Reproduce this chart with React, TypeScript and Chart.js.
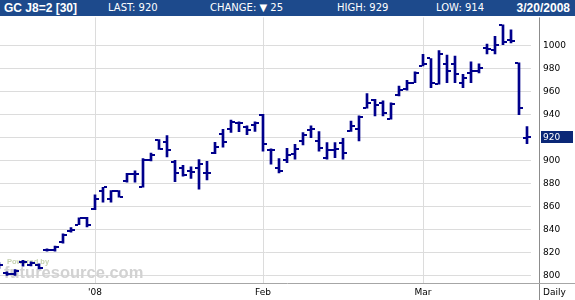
import React, { useEffect, useRef } from "react";
import { Chart, registerables } from "chart.js";

Chart.register(...registerables);

// ---- Data ----
const dates = [
  "2007-12-13", "2007-12-14", "2007-12-17", "2007-12-18", "2007-12-19", "2007-12-20",
  "2007-12-21", "2007-12-24", "2007-12-26", "2007-12-27", "2007-12-28", "2007-12-31",
  "2008-01-02", "2008-01-03", "2008-01-04", "2008-01-07", "2008-01-08", "2008-01-09",
  "2008-01-10", "2008-01-11", "2008-01-14", "2008-01-15", "2008-01-16", "2008-01-17",
  "2008-01-18", "2008-01-22", "2008-01-23", "2008-01-24", "2008-01-25", "2008-01-28",
  "2008-01-29", "2008-01-30", "2008-01-31",
  "2008-02-01", "2008-02-04", "2008-02-05", "2008-02-06", "2008-02-07", "2008-02-08",
  "2008-02-11", "2008-02-12", "2008-02-13", "2008-02-14", "2008-02-15", "2008-02-19",
  "2008-02-20", "2008-02-21", "2008-02-22", "2008-02-25", "2008-02-26", "2008-02-27",
  "2008-02-28", "2008-02-29",
  "2008-03-03", "2008-03-04", "2008-03-05", "2008-03-06", "2008-03-07", "2008-03-10",
  "2008-03-11", "2008-03-12", "2008-03-13", "2008-03-14", "2008-03-17", "2008-03-18",
  "2008-03-19", "2008-03-20",
];

const opens = [
  808, 802, 801, 812, 809.4, 809, 822, 822, 828.6, 838.5, 844, 850,
  858, 872.9, 866, 873, 881.7, 888, 876.6, 900, 917.7, 916, 898.6, 893.4,
  891, 893, 889, 906.6, 922.9, 927, 932, 929, 930.9,
  939.4, 909, 892.9, 900, 905.8, 916.8, 926, 916.8, 902.3, 908.7, 914.8, 925.5,
  927, 945.8, 952.2, 950, 936.2, 956.5, 961.7, 967.5,
  982, 988.5, 966.7, 983.9, 983.9, 967.5, 976, 977.6, 997.7, 996.3, 1017.8, 1004.9,
  984.8, 919.5,
];

const highs = [
  811, 803, 805, 813, 811.7, 810, 823, 825.5, 836, 841.5, 850, 850.5,
  870, 876.6, 873.7, 873.7, 888.6, 890.9, 901.5, 906.3, 918, 921.4, 900, 895.7,
  894.3, 900.6, 899, 915.7, 927, 934.9, 933.4, 930, 933.4,
  940, 910, 901.4, 910.4, 913.9, 924, 929.9, 924.9, 915.4, 915.4, 919, 934,
  938.6, 958, 953, 951.6, 950, 964.6, 969.6, 977,
  992, 988.5, 995.4, 991.4, 990.5, 974.7, 985.6, 983.9, 1001, 1007.8, 1017.8, 1013.5,
  984.8, 929.3,
];

const lows = [
  806, 800, 800, 808, 808.2, 805.5, 821, 821, 828, 837.5, 844, 842,
  857, 863.7, 863.7, 868, 880.9, 880.9, 876.6, 899.4, 909.4, 902.9, 881.4, 886.3,
  884.3, 874.9, 883, 905.7, 911.4, 924.3, 924.9, 922.3, 925,
  908, 896.6, 889, 898, 900.9, 913.3, 919.7, 908, 900.9, 902.3, 900.9, 925,
  916.8, 945.2, 938.6, 938.6, 935.7, 956, 960.9, 967.5,
  982, 963.2, 966.1, 967.5, 967.5, 963.2, 967.5, 976, 992.5, 992.5, 1000.6, 1002,
  939.7, 914.4,
];

const closes = [
  809.4, 801, 804, 812, 811, 806.5, 822, 824.5, 835.5, 839, 849.8, 844,
  866.6, 876.6, 873, 868, 888, 888, 900, 905, 910, 909, 889, 887,
  890, 896.6, 889, 911.4, 915.7, 932.9, 932, 926.3, 932,
  914.3, 909, 890.9, 904.6, 909.6, 921.7, 927, 910.4, 909, 909.6, 906, 929.9,
  937.7, 950.1, 948.1, 940.9, 949.3, 960.9, 967.5, 976.2,
  984, 967.5, 992, 977.6, 975.3, 971.8, 977.6, 980.5, 997.1, 1000, 1002.9, 1004,
  945.4, 920,
];

const yTickValues = [800, 820, 840, 860, 880, 900, 920, 940, 960, 980, 1000];
const monthStartDates = ["2008-01-02", "2008-02-01", "2008-03-03"];
const monthLabels = ["'08", "Feb", "Mar"];

const symbolText = "GC J8=2 [30]";
const periodText = "Daily";

// ---- Styles ----
const BAR_COLOR = "#00008c";
const HEADER_BG = "#1d4a8c";
const PRICE_BG = "#0b2877";
const GRID_COLOR = "#dcdcdc";
const AXIS_FONT = '"DejaVu Sans", Verdana, sans-serif';

const monthIdx = monthStartDates.map((d) => dates.indexOf(d));
const last = closes.length - 1;
const lastClose = closes[last];
const change = closes[last] - closes[last - 1];

function fmtDate(d: string) {
  const [y, m, day] = d.split("-");
  return `${parseInt(m, 10)}/${parseInt(day, 10)}/${y}`;
}

const ohlcPlugin = {
  id: "ohlcTicks",
  afterDatasetsDraw(chart: any) {
    const { ctx, chartArea, scales } = chart;
    const x = scales.x;
    const y = scales.y;
    ctx.save();
    ctx.beginPath();
    ctx.rect(chartArea.left, chartArea.top, chartArea.right - chartArea.left, chartArea.bottom - chartArea.top);
    ctx.clip();
    ctx.fillStyle = BAR_COLOR;
    for (let i = 0; i < opens.length; i++) {
      const px = Math.round(x.getPixelForValue(i));
      const po = Math.round(y.getPixelForValue(opens[i]));
      const pc = Math.round(y.getPixelForValue(closes[i]));
      ctx.fillRect(px - 4, po - 1, 3, 2);
      ctx.fillRect(px + 1, pc - 1, 3, 2);
    }
    ctx.restore();
  },
};

const decorPlugin = {
  id: "decor",
  beforeDatasetsDraw(chart: any) {
    const { ctx, chartArea } = chart;
    ctx.save();
    ctx.textBaseline = "alphabetic";
    ctx.textAlign = "left";
    ctx.fillStyle = "#c6d2b0";
    ctx.font = 'bold 7.5px "Liberation Sans", Arial, sans-serif';
    ctx.fillText("Powered by", chartArea.left + 7, chartArea.bottom - 19);
    ctx.fillStyle = "#d2d2d2";
    ctx.font = 'bold 16.5px "Liberation Sans", Arial, sans-serif';
    ctx.fillText("futuresource.com", chartArea.left + 4, chartArea.bottom - 5);
    ctx.restore();
  },
  afterDraw(chart: any) {
    const { ctx, chartArea, width, height, scales } = chart;
    const y = scales.y;
    ctx.save();
    // right axis line
    ctx.strokeStyle = "#8c8c8c";
    ctx.lineWidth = 1;
    ctx.beginPath();
    const ax = Math.round(chartArea.right + 8) + 0.5;
    ctx.moveTo(ax, chartArea.top);
    ctx.lineTo(ax, height);
    ctx.stroke();
    // bottom axis line
    ctx.strokeStyle = "#a6a6a6";
    ctx.beginPath();
    const by = Math.round(chartArea.bottom) + 0.5;
    ctx.moveTo(0, by);
    ctx.lineTo(width, by);
    ctx.stroke();
    // current price label
    const py = y.getPixelForValue(lastClose);
    ctx.fillStyle = PRICE_BG;
    ctx.fillRect(Math.round(chartArea.right + 10), Math.round(py - 6), 32, 12);
    ctx.fillStyle = "#ffffff";
    ctx.font = `9px ${AXIS_FONT}`;
    ctx.textBaseline = "middle";
    ctx.textAlign = "left";
    ctx.fillText(String(Math.round(lastClose)), chartArea.right + 12, py);
    // period label
    ctx.fillStyle = "#000000";
    ctx.fillText(periodText, chartArea.right + 12, chartArea.bottom + 10);
    ctx.restore();
  },
};

export default function App() {
  const ref = useRef<HTMLCanvasElement>(null);

  useEffect(() => {
    const canvas = ref.current;
    if (!canvas) return;
    const chart = new Chart(canvas, {
      type: "bar",
      data: {
        datasets: [
          {
            data: dates.map((_, i) => ({ x: i, y: [lows[i], highs[i]] })) as any,
            backgroundColor: BAR_COLOR,
            borderWidth: 0,
            barThickness: 2,
          },
        ],
      },
      options: {
        animation: false,
        responsive: false,
        devicePixelRatio: 1,
        layout: { padding: { top: 16, left: 0, right: 0, bottom: 0 } },
        plugins: { legend: { display: false }, tooltip: { enabled: false } },
        events: [],
        scales: {
          x: {
            type: "linear",
            min: 0.125,
            max: 66.5,
            offset: false,
            bounds: "data",
            position: "bottom",
            grid: { color: GRID_COLOR, offset: false, drawTicks: false, lineWidth: 1 },
            border: { display: false },
            afterBuildTicks: (s: any) => {
              s.ticks = monthIdx.map((v) => ({ value: v }));
            },
            afterFit: (s: any) => {
              s.height = 17;
            },
            ticks: {
              autoSkip: false,
              maxRotation: 0,
              padding: 5,
              color: "#000",
              font: { family: AXIS_FONT, size: 9 },
              callback: (_v: any, idx: number) => monthLabels[idx],
            },
          },
          y: {
            type: "linear",
            position: "right",
            min: 793.7,
            max: 1024.2,
            grid: { color: GRID_COLOR, drawTicks: false, lineWidth: 1 },
            border: { display: false },
            afterBuildTicks: (s: any) => {
              s.ticks = yTickValues.map((v) => ({ value: v }));
            },
            afterFit: (s: any) => {
              s.width = 44;
            },
            ticks: {
              padding: 12,
              color: "#000",
              font: { family: AXIS_FONT, size: 9 },
              callback: (v: any) => String(v),
            },
          },
        },
      },
      plugins: [decorPlugin, ohlcPlugin],
    } as any);
    return () => chart.destroy();
  }, []);

  const hdrItem = (left: number, text: React.ReactNode) => (
    <span style={{ position: "absolute", left, top: 0 }}>{text}</span>
  );

  return (
    <div
      style={{
        position: "absolute",
        left: 0,
        top: 0,
        width: 575,
        height: 300,
        background: "#ffffff",
        overflow: "hidden",
      }}
    >
      <canvas
        ref={ref}
        width={575}
        height={300}
        style={{ position: "absolute", left: 0, top: 0, width: 575, height: 300 }}
      />
      <div
        style={{
          position: "absolute",
          left: 0,
          top: 0,
          width: 575,
          height: 16,
          background: HEADER_BG,
          color: "#ffffff",
          fontFamily: AXIS_FONT,
          fontSize: 10,
          lineHeight: "16px",
          whiteSpace: "nowrap",
        }}
      >
        <span
          style={{
            position: "absolute",
            left: 4,
            top: 0,
            fontFamily: '"Liberation Sans", Arial, sans-serif',
            fontWeight: "bold",
            fontSize: 12,
          }}
        >
          {symbolText}
        </span>
        {hdrItem(108, `LAST: ${Math.round(lastClose)}`)}
        {hdrItem(210, `CHANGE: ${change < 0 ? "\u25BC" : "\u25B2"} ${Math.abs(Math.round(change))}`)}
        {hdrItem(337, `HIGH: ${Math.round(highs[last])}`)}
        {hdrItem(436, `LOW: ${Math.round(lows[last])}`)}
        <span
          style={{
            position: "absolute",
            right: 5,
            top: 0,
            fontFamily: '"Liberation Sans", Arial, sans-serif',
            fontWeight: "bold",
            fontSize: 12,
          }}
        >
          {fmtDate(dates[last])}
        </span>
      </div>
    </div>
  );
}
